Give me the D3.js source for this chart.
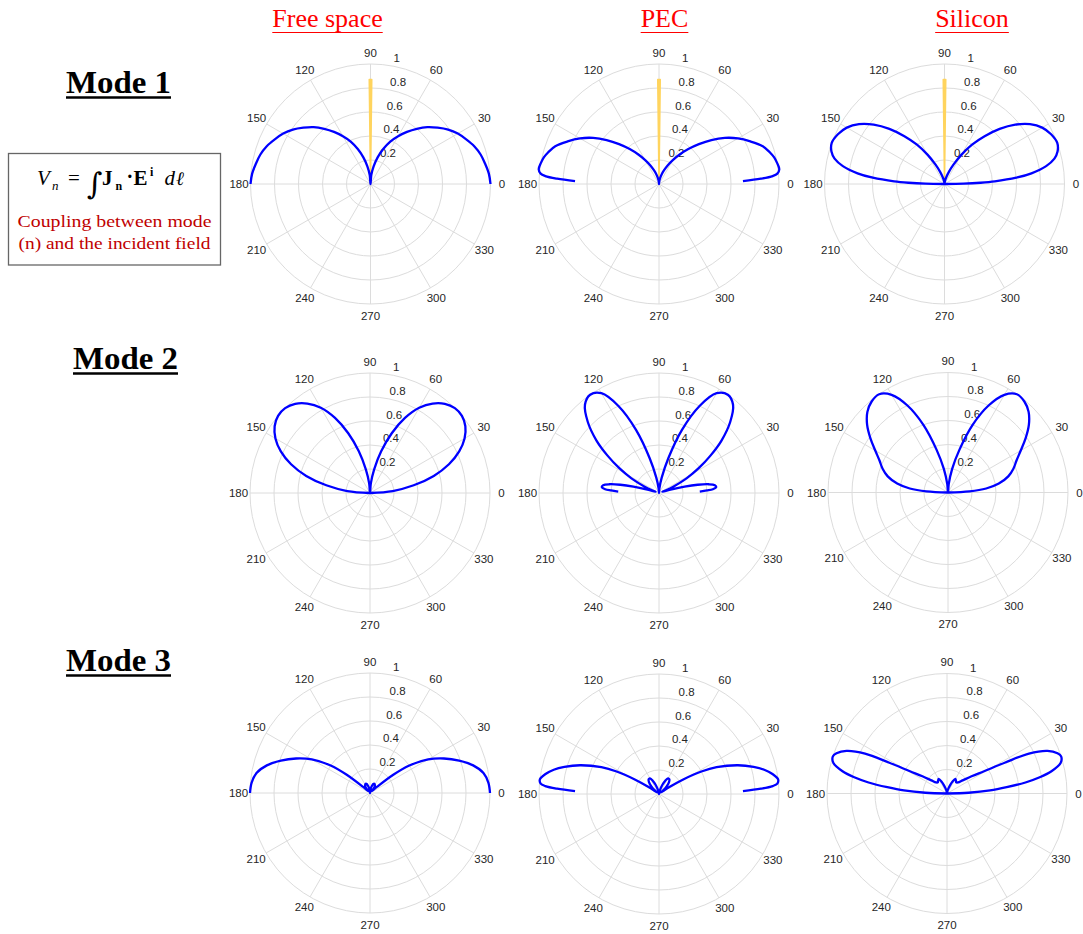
<!DOCTYPE html>
<html>
<head>
<meta charset="utf-8">
<script src="https://cdn.jsdelivr.net/npm/d3@7"></script>
<style>
  body { margin: 0; background: #fff; }
  svg { display: block; }
</style>
</head>
<body>
<svg id="fig" width="1083" height="934"></svg>
<script>
// ---- labels -------------------------------------------------------------
const media = ["Free space", "PEC", "Silicon"];
const modes = ["Mode 1", "Mode 2", "Mode 3"];
const thetaTicks = [0, 30, 60, 90, 120, 150, 180, 210, 240, 270, 300, 330];
const rTicks = [0.2, 0.4, 0.6, 0.8, 1];

// ---- normalised coupling |Vn| vs incidence angle (deg), 0–90° half ------
// The patterns are symmetric about broadside, so the 90–180° half reuses
// these readings mirrored about 90°.
const fs1Theta = [0, 5, 10, 15, 20, 25, 30, 35, 40, 45, 50, 55, 60, 65, 70, 75, 80, 85, 90];
const fs1R     = [1.0, 0.99, 0.97, 0.95, 0.92, 0.88, 0.84, 0.79, 0.73, 0.67, 0.60, 0.53, 0.46, 0.39, 0.31, 0.23, 0.15, 0.075, 0];

const pec1Theta = [2, 3, 4, 5, 7, 10, 13, 16, 20, 25, 30, 35, 40, 45, 50, 55, 60, 65, 70, 75, 80, 85, 90];
const pec1R     = [0.70, 0.85, 0.95, 0.99, 1.01, 1.0, 0.985, 0.96, 0.92, 0.84, 0.76, 0.67, 0.57, 0.47, 0.38, 0.30, 0.23, 0.17, 0.12, 0.08, 0.045, 0.02, 0];

const si1Theta = [0, 1, 2, 3, 5, 7, 10, 13, 16, 20, 25, 30, 35, 40, 45, 50, 55, 60, 65, 70, 75, 80, 85, 90];
const si1R     = [0, 0.16, 0.30, 0.42, 0.60, 0.73, 0.86, 0.94, 0.98, 1.0, 0.98, 0.94, 0.87, 0.77, 0.65, 0.52, 0.40, 0.28, 0.18, 0.11, 0.06, 0.03, 0.01, 0];

const fs2Theta = [0, 5, 10, 15, 20, 25, 30, 35, 40, 45, 50, 55, 60, 65, 70, 75, 80, 85, 90];
const fs2R     = [0, 0.19, 0.37, 0.55, 0.70, 0.82, 0.91, 0.97, 1.0, 1.0, 0.97, 0.91, 0.82, 0.69, 0.53, 0.36, 0.20, 0.08, 0];

const pec2Theta = [2, 3, 4, 6, 8, 10, 12, 14, 16, 18, 20, 24, 28, 32, 36, 40, 45, 50, 55, 60, 65, 70, 75, 80, 85, 90];
const pec2R     = [0.34, 0.40, 0.45, 0.48, 0.47, 0.42, 0.33, 0.22, 0.11, 0.03, 0.04, 0.13, 0.26, 0.39, 0.53, 0.68, 0.84, 0.96, 1.0, 0.96, 0.80, 0.56, 0.30, 0.13, 0.04, 0];

const si2Theta = [0, 3, 6, 10, 15, 20, 25, 30, 35, 40, 45, 50, 55, 60, 65, 70, 75, 80, 85, 90];
const si2R     = [0, 0.18, 0.32, 0.43, 0.52, 0.58, 0.63, 0.70, 0.79, 0.88, 0.95, 0.99, 1.0, 0.94, 0.80, 0.60, 0.37, 0.20, 0.07, 0];

const fs3Theta = [0, 5, 10, 15, 20, 25, 30, 35, 38, 41, 45, 50, 55, 60, 65, 70, 75, 80, 85, 90];
const fs3R     = [1.0, 0.99, 0.96, 0.89, 0.79, 0.68, 0.56, 0.40, 0.25, 0.08, 0.02, 0.05, 0.07, 0.08, 0.085, 0.08, 0.06, 0.04, 0.02, 0];

const pec3Theta = [2, 3, 4, 5, 7, 10, 13, 16, 20, 25, 28, 31, 34, 37, 40, 45, 50, 55, 60, 65, 70, 75, 80, 85, 90];
const pec3R     = [0.70, 0.85, 0.95, 0.99, 1.0, 0.96, 0.90, 0.82, 0.70, 0.53, 0.40, 0.24, 0.10, 0.02, 0.04, 0.09, 0.13, 0.15, 0.15, 0.12, 0.08, 0.04, 0.015, 0.005, 0];

const si3Theta = [0, 2, 4, 6, 8, 10, 12, 15, 18, 20, 23, 26, 28, 31, 35, 40, 45, 50, 55, 60, 65, 70, 75, 80, 85, 90];
const si3R     = [0, 0.18, 0.36, 0.50, 0.66, 0.79, 0.89, 0.98, 1.0, 0.98, 0.91, 0.76, 0.55, 0.36, 0.25, 0.17, 0.13, 0.12, 0.13, 0.14, 0.11, 0.07, 0.04, 0.02, 0.01, 0];

// incident plane wave direction (normal incidence), shown as a narrow beam
const beamTheta = [89.3, 90, 90.7];
const beamR     = [0.87, 0.87, 0.87];

// ---- figure -------------------------------------------------------------
const svg = d3.select("#fig");
svg.append("rect").attr("width", 1083).attr("height", 934).attr("fill", "#fff");

const R = 120;                       // outer ring radius in px
const rScale = d3.scaleLinear().domain([0, 1]).range([0, R]);
const rad = d => d * Math.PI / 180;
// d3 radial angles run clockwise from 12 o'clock; polar angles run ccw from 3 o'clock
const toA = th => rad(90 - th);

const panels = [
  { theta: fs1Theta,  r: fs1R,  beam: true,  cx: 370.5, cy: 184 },
  { theta: pec1Theta, r: pec1R, beam: true,  cx: 659,   cy: 184 },
  { theta: si1Theta,  r: si1R,  beam: true,  cx: 944.5, cy: 184 },
  { theta: fs2Theta,  r: fs2R,  beam: false, cx: 370,   cy: 493 },
  { theta: pec2Theta, r: pec2R, beam: false, cx: 659,   cy: 493 },
  { theta: si2Theta,  r: si2R,  beam: false, cx: 948,   cy: 492.5 },
  { theta: fs3Theta,  r: fs3R,  beam: false, cx: 370,   cy: 793 },
  { theta: pec3Theta, r: pec3R, beam: false, cx: 659,   cy: 794 },
  { theta: si3Theta,  r: si3R,  beam: false, cx: 947,   cy: 793.5 }
];

// full 0–180° trace: right half, then its mirror about broadside
function fullTrace(theta, r) {
  const right = theta.map((t, i) => ({ t, r: r[i] }));
  const left = right.slice(0, -1).reverse().map(d => ({ t: 180 - d.t, r: d.r }));
  return right.concat(left);
}

const pattern = d3.lineRadial()
  .angle(d => toA(d.t))
  .radius(d => rScale(d.r))
  .curve(d3.curveCatmullRom.alpha(0.5));

const beamLine = d3.lineRadial()
  .angle(d => toA(d.t))
  .radius(d => rScale(d.r))
  .curve(d3.curveLinearClosed);

const sans = "'Liberation Sans', Arial, sans-serif";
const gridColor = "#dcdcdc";

panels.forEach(p => {
  const g = svg.append("g").attr("transform", `translate(${p.cx},${p.cy})`);

  // grid rings
  g.selectAll("circle.ring").data(rTicks).join("circle")
    .attr("class", "ring")
    .attr("r", d => rScale(d))
    .attr("fill", "none")
    .attr("stroke", gridColor)
    .attr("stroke-width", 1);

  // spokes every 30°
  g.selectAll("line.spoke").data(thetaTicks).join("line")
    .attr("class", "spoke")
    .attr("x1", 0).attr("y1", 0)
    .attr("x2", d => rScale(1) * Math.cos(rad(d)))
    .attr("y2", d => -rScale(1) * Math.sin(rad(d)))
    .attr("stroke", gridColor)
    .attr("stroke-width", 1);

  // angle labels
  g.selectAll("text.th").data(thetaTicks).join("text")
    .attr("class", "th")
    .attr("x", d => (R + 11.5) * Math.cos(rad(d)))
    .attr("y", d => -(R + 11.5) * Math.sin(rad(d)))
    .attr("text-anchor", "middle")
    .attr("dominant-baseline", "central")
    .attr("font-family", sans)
    .attr("font-size", 11.5)
    .attr("fill", "#262626")
    .text(d => d);

  // radial tick labels along 82°
  g.selectAll("text.rt").data(rTicks).join("text")
    .attr("class", "rt")
    .attr("x", d => rScale(d) * Math.cos(rad(82)) + 6.2)
    .attr("y", d => -rScale(d) * Math.sin(rad(82)) - 3)
    .attr("font-family", sans)
    .attr("font-size", 11.5)
    .attr("fill", "#262626")
    .text(d => d3.format("~g")(d));

  if (p.beam) {
    const beam = [{ t: 90, r: 0 }].concat(beamTheta.map((t, i) => ({ t, r: beamR[i] })));
    g.append("path")
      .attr("d", beamLine(beam))
      .attr("fill", "#ffd45e")
      .attr("stroke", "#ffd45e")
      .attr("stroke-width", 1.5)
      .attr("stroke-linejoin", "round");
  }

  g.append("path")
    .attr("d", pattern(fullTrace(p.theta, p.r)))
    .attr("fill", "none")
    .attr("stroke", "#0000ff")
    .attr("stroke-width", 2.3)
    .attr("stroke-linejoin", "round");
});

// ---- column headings ----------------------------------------------------
const headX = [327.5, 664.5, 972];
media.forEach((m, i) => {
  const t = svg.append("text")
    .attr("x", headX[i]).attr("y", 27)
    .attr("text-anchor", "middle")
    .attr("font-family", "'Liberation Serif', 'Times New Roman', serif")
    .attr("font-size", 26)
    .attr("fill", "#ff0000")
    .text(m);
  const w = t.node().getComputedTextLength();
  svg.append("line")
    .attr("x1", headX[i] - w / 2).attr("x2", headX[i] + w / 2)
    .attr("y1", 32.5).attr("y2", 32.5)
    .attr("stroke", "#ff0000").attr("stroke-width", 1.2);
});

// ---- row headings -------------------------------------------------------
const modeX = [118.5, 125.5, 118.5];
const modeY = [93, 369, 671];
modes.forEach((m, i) => {
  svg.append("text")
    .attr("x", modeX[i]).attr("y", modeY[i])
    .attr("text-anchor", "middle")
    .attr("font-family", "'Liberation Serif', 'Times New Roman', serif")
    .attr("font-weight", "bold")
    .attr("font-size", 32)
    .attr("textLength", 105)
    .attr("lengthAdjust", "spacingAndGlyphs")
    .attr("fill", "#000")
    .text(m);
  svg.append("line")
    .attr("x1", modeX[i] - 52.5).attr("x2", modeX[i] + 52.5)
    .attr("y1", modeY[i] + 4.5).attr("y2", modeY[i] + 4.5)
    .attr("stroke", "#000").attr("stroke-width", 2.5);
});

// ---- formula box ----------------------------------------------------------
const box = svg.append("g");
box.append("rect")
  .attr("x", 8.5).attr("y", 153.5).attr("width", 212).attr("height", 111.5)
  .attr("fill", "#fff").attr("stroke", "#666").attr("stroke-width", 1.3);

const serif = "'Liberation Serif', 'Times New Roman', serif";
// V_n = ∫ J_n · E^i dℓ, glyph by glyph
const pieces = [
  { s: "V", x: 37,  y: 185, size: 21, style: "italic" },
  { s: "n", x: 52,  y: 190, size: 13, style: "italic" },
  { s: "=", x: 68,  y: 185, size: 21 },
  { s: "\u222B", x: 87, y: 194, size: 30, family: "'DejaVu Serif', serif" },
  { s: "J", x: 102, y: 185, size: 21, weight: "bold" },
  { s: "n", x: 115.5, y: 190, size: 12, weight: "bold" },
  { s: "\u00B7", x: 126.5, y: 183, size: 20, weight: "bold" },
  { s: "E", x: 133.5, y: 185, size: 21, weight: "bold" },
  { s: "i", x: 150, y: 176, size: 12, weight: "bold" },
  { s: "d", x: 164.5, y: 185, size: 21, style: "italic" },
  { s: "\u2113", x: 176, y: 185, size: 19, style: "italic", family: "'DejaVu Serif', serif" }
];
pieces.forEach(p => {
  box.append("text")
    .attr("x", p.x).attr("y", p.y)
    .attr("font-family", p.family || serif)
    .attr("font-size", p.size)
    .attr("font-style", p.style || "normal")
    .attr("font-weight", p.weight || "normal")
    .attr("fill", "#000")
    .text(p.s);
});

[["Coupling between mode", 227, 194], ["(n) and the incident field", 249, 192]].forEach(([s, y, len]) => {
  box.append("text")
    .attr("x", 114.5).attr("y", y)
    .attr("text-anchor", "middle")
    .attr("font-family", serif)
    .attr("font-size", 17)
    .attr("textLength", len)
    .attr("lengthAdjust", "spacingAndGlyphs")
    .attr("fill", "#c00000")
    .text(s);
});
</script>
</body>
</html>
